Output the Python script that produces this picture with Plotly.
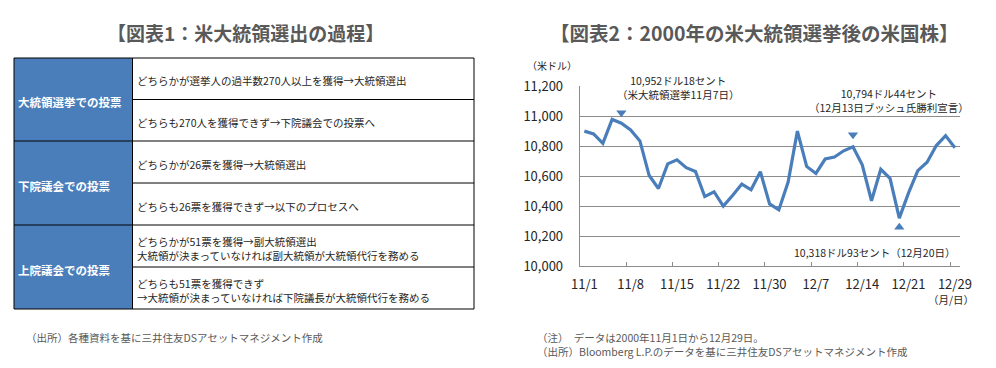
import plotly.graph_objects as go

# ---------------- data ----------------
dates = ["11/1", "11/2", "11/3", "11/6", "11/7", "11/8", "11/9", "11/10", "11/13", "11/14",
         "11/15", "11/16", "11/17", "11/20", "11/21", "11/22", "11/24", "11/27", "11/28", "11/29",
         "11/30", "12/1", "12/4", "12/5", "12/6", "12/7", "12/8", "12/11", "12/12", "12/13",
         "12/14", "12/15", "12/18", "12/19", "12/20", "12/21", "12/22", "12/26", "12/27", "12/28",
         "12/29"]
dow = [10899, 10881, 10818, 10977, 10952.18, 10907, 10834, 10603, 10517, 10681,
       10708, 10656, 10630, 10463, 10495, 10399, 10470, 10546, 10508, 10629,
       10414, 10374, 10560, 10899, 10664, 10617, 10713, 10726, 10768, 10794.44,
       10675, 10435, 10645, 10584, 10318.93, 10487, 10636, 10692, 10803, 10869,
       10788]
tick_labels = ["11/1", "11/8", "11/15", "11/22", "11/30", "12/7", "12/14", "12/21", "12/29"]
y_ticks = [10000, 10200, 10400, 10600, 10800, 11000, 11200]

table_groups = ["大統領選挙での投票", "下院議会での投票", "上院議会での投票"]
table_rows = [
    "どちらかが選挙人の過半数270人以上を獲得→大統領選出",
    "どちらも270人を獲得できず→下院議会での投票へ",
    "どちらかが26票を獲得→大統領選出",
    "どちらも26票を獲得できず→以下のプロセスへ",
    "どちらかが51票を獲得→副大統領選出<br>大統領が決まっていなければ副大統領が大統領代行を務める",
    "どちらも51票を獲得できず<br>→大統領が決まっていなければ下院議長が大統領代行を務める",
]

# page body has an 8px default margin, so the figure is drawn 8px in from the window edge
OFF = 8
WIN_W, WIN_H = 996, 368
W, H = WIN_W - OFF, WIN_H - OFF
FONT = "Noto Sans CJK JP"
BLUE = "#4a7ebb"
GRAY = "#595959"

def px(x):
    return (x - OFF) / W

def py(y):
    return 1 - (y - OFF) / H

def note(x, y, text, size=11, color="#262626", xa="center", bold=False, align="center"):
    return dict(x=px(x), y=py(y), xref="paper", yref="paper", xanchor=xa, yanchor="middle",
                align=align, showarrow=False, text=("<b>%s</b>" % text) if bold else text,
                font=dict(size=size, color=color, family=FONT))

fig = go.Figure()

idx = list(range(len(dates)))
fig.add_trace(go.Scatter(x=idx, y=dow, mode="lines",
                         line=dict(color=BLUE, width=3.2), hoverinfo="skip",
                         showlegend=False, cliponaxis=False))

i_elec = dates.index("11/7")
i_bush = dates.index("12/13")
i_low = dates.index("12/20")
fig.add_trace(go.Scatter(x=[i_elec, i_bush], y=[dow[i_elec] + 70, dow[i_bush] + 80],
                         mode="markers", marker=dict(symbol="triangle-down", size=9, color=BLUE),
                         showlegend=False, hoverinfo="skip", cliponaxis=False))
fig.add_trace(go.Scatter(x=[i_low], y=[dow[i_low] - 60],
                         mode="markers", marker=dict(symbol="triangle-up", size=9, color=BLUE),
                         showlegend=False, hoverinfo="skip", cliponaxis=False))

x0, x1 = 579.7, 959.5
y0, y1 = 86, 266
fig.update_layout(
    width=W, height=H, margin=dict(l=0, r=0, t=0, b=0, pad=0, autoexpand=False),
    paper_bgcolor="white", plot_bgcolor="white",
    font=dict(family=FONT, color="#333333"),
    xaxis=dict(domain=[px(x0), px(x1)], range=[-0.5, len(dates) - 0.5], automargin=False,
               tickmode="array", tickvals=[dates.index(t) for t in tick_labels],
               ticktext=tick_labels, ticks="", showgrid=False, zeroline=False,
               showline=True, linecolor="#8c8c8c", linewidth=1,
               tickfont=dict(size=13, color="#262626"), ticklabelstandoff=6,
               minor=dict(tickmode="linear", tick0=4.5, dtick=5, ticks="inside",
                          ticklen=4, tickcolor="#8c8c8c", showgrid=False)),
    yaxis=dict(domain=[py(y1), py(y0)], range=[10000, 11200], automargin=False,
               tickmode="array", tickvals=y_ticks, tickformat=",",
               showgrid=True, gridcolor="#8c8c8c", gridwidth=1, zeroline=False,
               showline=True, linecolor="#8c8c8c", linewidth=1, ticks="",
               tickfont=dict(size=13, color="#262626"), ticklabelstandoff=13),
)

shapes = []
ann = []

ann.append(note(245, 33, "【図表1：米大統領選出の過程】", size=19, color=GRAY, bold=True))
ann.append(note(754, 33, "【図表2：2000年の米大統領選挙後の米国株】", size=19.5, color=GRAY, bold=True))

# table
tl, tm, tr = 14, 132.5, 474
row_y = [58, 99.5, 141, 183, 225, 267, 309]
for g in range(3):
    shapes.append(dict(type="rect", xref="paper", yref="paper",
                       x0=px(tl), x1=px(tm), y0=py(row_y[2 * g + 2]), y1=py(row_y[2 * g]),
                       fillcolor=BLUE, line=dict(width=0), layer="below"))
    ann.append(note(tl + 2, (row_y[2 * g] + row_y[2 * g + 2]) / 2 + 3, table_groups[g],
                    size=11.5, color="white", xa="left", bold=True, align="left"))
for i, yy in enumerate(row_y):
    full = (i % 2 == 0)
    shapes.append(dict(type="line", xref="paper", yref="paper",
                       x0=px(tl if full else tm), x1=px(tr), y0=py(yy), y1=py(yy),
                       line=dict(color="black", width=1)))
for xx in (tl, tm, tr):
    shapes.append(dict(type="line", xref="paper", yref="paper",
                       x0=px(xx), x1=px(xx), y0=py(row_y[0]), y1=py(row_y[-1]),
                       line=dict(color="black", width=1)))
for r, txt in enumerate(table_rows):
    ann.append(note(tm + 2, (row_y[r] + row_y[r + 1]) / 2 + 2, txt, size=10.5,
                    xa="left", align="left"))

ann.append(note(24, 337, "（出所）各種資料を基に三井住友DSアセットマネジメント作成",
                size=10.5, color=GRAY, xa="left", align="left"))

ann.append(note(552, 66, "（米ドル）", size=10))
ann.append(note(951, 299, "（月/日）", size=10.5))
ann.append(note(678, 87, "10,952ドル18セント<br>（米大統領選挙11月7日）", size=10.5))
ann.append(note(889, 101, "10,794ドル44セント<br>（12月13日ブッシュ氏勝利宣言）", size=10.5))
ann.append(note(875, 252, "10,318ドル93セント（12月20日）", size=10.5))
ann.append(note(535, 344,
                "（注）　データは2000年11月1日から12月29日。<br>（出所）Bloomberg L.P.のデータを基に三井住友DSアセットマネジメント作成",
                size=10.5, color=GRAY, xa="left", align="left"))

fig.update_layout(shapes=shapes, annotations=ann)
fig.write_html("out.html")
